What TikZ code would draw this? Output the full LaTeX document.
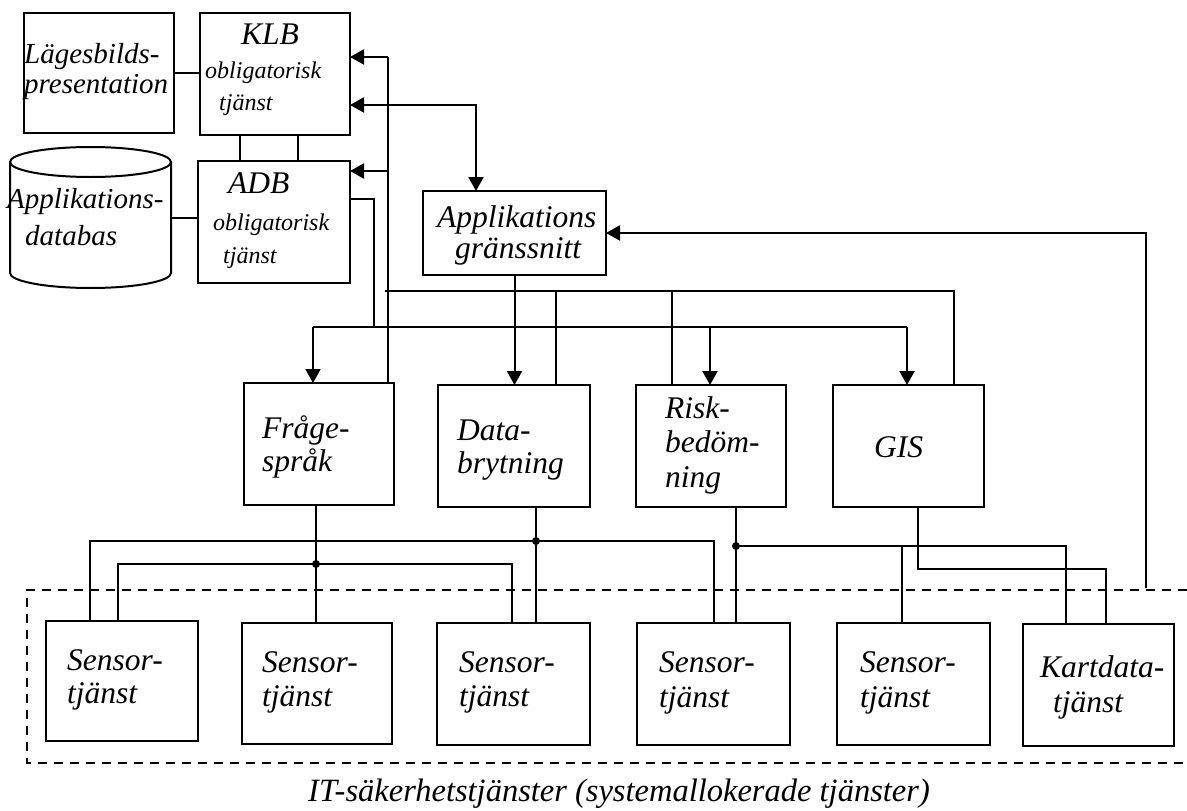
\documentclass[tikz,border=0pt]{standalone}
\usepackage{fontspec}
\setmainfont{Liberation Serif}
\usetikzlibrary{arrows.meta}
% box with corners (x1,y1) and (x2,y2), y growing downwards
\newcommand\mkbox[5]{\node[box, minimum width={#4-#2}, minimum height={#5-#3}] (#1) at ({(#2+#4)/2},{(#3+#5)/2}) {};}
\begin{document}
\begin{tikzpicture}[x=1pt,y=-1pt,
  box/.style={draw, line width=2pt, inner sep=0pt, outer sep=0pt},
  wire/.style={line width=2pt},
  tip/.tip={Triangle[length=14pt,width=15pt]},
  arr/.style={wire, -tip},
  dual/.style={wire, tip-tip},
  txt/.style={anchor=base west, inner sep=0pt, font=\fontsize{31.5}{31.5}\selectfont\itshape},
  midtxt/.style={txt, font=\fontsize{29}{29}\selectfont\itshape},
  small/.style={txt, font=\fontsize{24}{24}\selectfont\itshape},
  frame/.style={line width=2pt, dash pattern=on 9pt off 7pt},
  junction/.style={fill, radius=4pt}]
\useasboundingbox (0,0) rectangle (1187,811);

% ---- boxes ----
\mkbox{lag}{24}{13}{174}{133}
\mkbox{klb}{200}{13}{350}{135}
\mkbox{adb}{198}{161}{350}{283}
\mkbox{ag}{423}{191}{606}{275}
\mkbox{fs}{244}{383}{394}{505}
\mkbox{dm}{438}{385}{590}{507}
\mkbox{rb}{636}{385}{786}{507}
\mkbox{gis}{833}{385}{984}{507}
\mkbox{s1}{46}{621}{198}{741}
\mkbox{s2}{242}{623}{392}{744}
\mkbox{s3}{437}{623}{590}{745}
\mkbox{s4}{637}{623}{790}{745}
\mkbox{s5}{837}{623}{990}{745}
\mkbox{kd}{1023}{624}{1174}{746}

% ---- application database (cylinder) ----
\node[minimum width=161pt, minimum height=141pt, inner sep=0pt, outer sep=0pt] (db) at (90.5,217.5) {};
\draw[wire] (10,162) -- (10,273) arc[start angle=180, end angle=360, x radius=80.5pt, y radius=15pt] -- (171,162);
\draw[wire] (90.5,162) ellipse[x radius=80.5pt, y radius=15pt];

% ---- texts ----
\node[midtxt] (lag1) at (24,63) {Lägesbilds-};
\node[midtxt] (lag2) at (24,93) {presentation};
\node[txt] (klb1) at (241,45) {KLB};
\node[small] (klb2) at (205,78) {obligatorisk};
\node[small] (klb3) at (219,110) {tjänst};
\node[txt] (adb1) at (228,193) {ADB};
\node[small] (adb2) at (213,230) {obligatorisk};
\node[small] (adb3) at (223,263) {tjänst};
\node[midtxt] (db1) at (7,208) {Applikations-};
\node[midtxt] (db2) at (25,245) {databas};
\node[txt] (ag1) at (437,227) {Applikations};
\node[txt] (ag2) at (455,258) {gränssnitt};
\node[txt] (fs1) at (262,438) {Fråge-};
\node[txt] (fs2) at (262,471) {språk};
\node[txt] (dm1) at (457,440) {Data-};
\node[txt] (dm2) at (457,473) {brytning};
\node[txt] (rb1) at (665,418) {Risk-};
\node[txt] (rb2) at (665,452) {bedöm-};
\node[txt] (rb3) at (665,487) {ning};
\node[txt] (gis1) at (874,457) {GIS};
\node[txt] (s1a) at (67,670) {Sensor-};
\node[txt] (s1b) at (67,703) {tjänst};
\node[txt] (s2a) at (262,672) {Sensor-};
\node[txt] (s2b) at (262,706) {tjänst};
\node[txt] (s3a) at (459,672) {Sensor-};
\node[txt] (s3b) at (459,706) {tjänst};
\node[txt] (s4a) at (659,672) {Sensor-};
\node[txt] (s4b) at (659,707) {tjänst};
\node[txt] (s5a) at (860,672) {Sensor-};
\node[txt] (s5b) at (860,707) {tjänst};
\node[txt] (kd1) at (1040,677) {Kartdata-};
\node[txt] (kd2) at (1053,712) {tjänst};
\node[txt, font=\fontsize{32.5}{32.5}\selectfont\itshape] (title) at (308,801) {IT-säkerhetstjänster (systemallokerade tjänster)};

% ---- dashed group of IT security services ----
\draw[frame] (1187,590) -- (27,590) -- (27,763) -- (1187,763);

% ---- top left links ----
\draw[wire] (lag.east) -- (lag.east -| klb.west);
\draw[wire] (db.east) -- (db.east -| adb.west);
\draw[wire] ([xshift=40pt]klb.south west) -- ([xshift=40pt]klb.south west |- adb.north);
\draw[wire] ([xshift=98pt]klb.south west) -- ([xshift=98pt]klb.south west |- adb.north);

% ---- return line up to KLB and ADB ----
\coordinate (kt) at (388,57);
\coordinate (at) at (388,171);
\draw[wire] (kt) -- (kt |- fs.north);
\draw[arr] (kt) -- (kt -| klb.east);
\draw[arr] (at) -- (at -| adb.east);

% ---- KLB <-> application interface ----
\coordinate (ka) at (476,105);
\draw[dual] (ka -| klb.east) -| (ag.north -| ka);

% ---- feedback from the security services ----
\coordinate (fb) at (1146,588);
\draw[arr] (fb) |- (ag.east);

% ---- application interface -> data mining ----
\draw[arr] (ag.south) -- (ag.south |- dm.north);

% ---- ADB distribution bus ----
\coordinate (ad) at (374,199);
\coordinate (lbj) at (374,327);
\coordinate (lbw) at (313,327);
\coordinate (lbr) at (710,327);
\coordinate (lbe) at (907,327);
\draw[wire] (ad -| adb.east) -- (ad) -- (lbj);
\draw[wire] (lbw) -- (lbe);
\draw[arr] (lbw) -- (lbw |- fs.north);
\draw[arr] (lbr) -- (lbr |- rb.north);
\draw[arr] (lbe) -- (lbe |- gis.north);

% ---- collection bus back to KLB/ADB ----
\coordinate (ubw) at (385,291);
\coordinate (ubd) at (556,291);
\coordinate (ubr) at (672,291);
\coordinate (ube) at (954,291);
\draw[wire] (ubw) -- (ube) -- (ube |- gis.north);
\draw[wire] (ubd) -- (ubd |- dm.north);
\draw[wire] (ubr) -- (ubr |- rb.north);

% ---- Frågespråk to sensors ----
\coordinate (fj) at (316,564);
\coordinate (fjw) at (118,564);
\coordinate (fje) at (512,564);
\draw[wire] (fj |- fs.south) -- (fj |- s2.north);
\draw[wire] (fjw |- s1.north) -- (fjw) -- (fje) -- (fje |- s3.north);
\fill (fj) circle[radius=4pt];

% ---- Databrytning to sensors ----
\coordinate (dj) at (536,541);
\coordinate (djw) at (90,541);
\coordinate (dje) at (714,541);
\draw[wire] (dj |- dm.south) -- (dj |- s3.north);
\draw[wire] (djw |- s1.north) -- (djw) -- (dje) -- (dje |- s4.north);
\fill (dj) circle[radius=4pt];

% ---- Riskbedömning to sensors and map data ----
\coordinate (rj) at (736,546);
\coordinate (rjm) at (902,546);
\coordinate (rje) at (1066,546);
\draw[wire] (rj |- rb.south) -- (rj |- s4.north);
\draw[wire] (rj) -- (rje) -- (rje |- kd.north);
\draw[wire] (rjm) -- (rjm |- s5.north);
\fill (rj) circle[radius=4pt];

% ---- GIS to map data ----
\coordinate (gj) at (918,569);
\coordinate (gje) at (1106,569);
\draw[wire] (gj |- gis.south) -- (gj) -- (gje) -- (gje |- kd.north);
\end{tikzpicture}
\end{document}
